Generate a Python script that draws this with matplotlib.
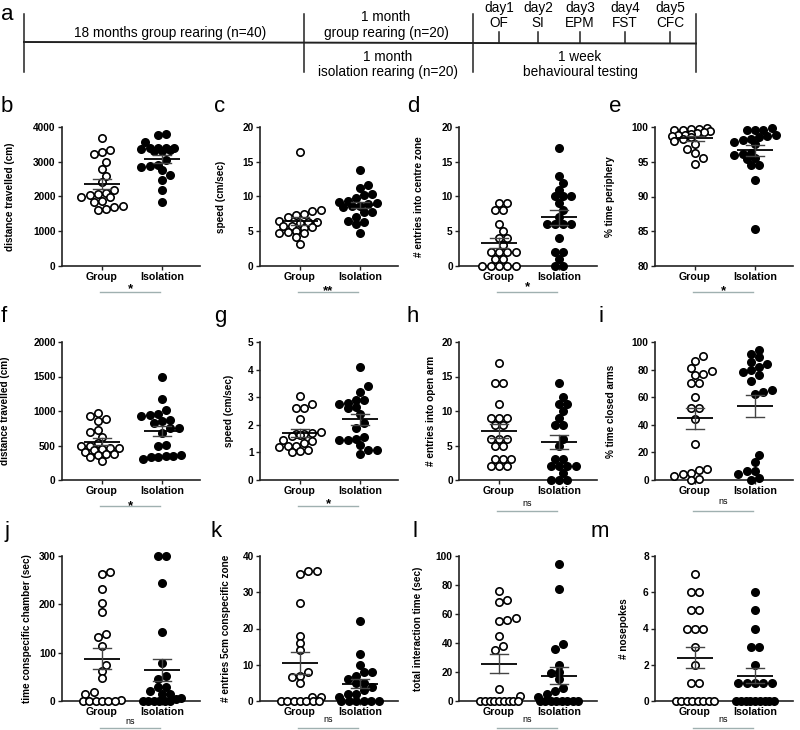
import numpy as np
import matplotlib
matplotlib.use('Agg')
import matplotlib.pyplot as plt

plt.rcParams['font.family'] = ['Liberation Sans', 'DejaVu Sans']

# ---------------- data ----------------
categories = ['Group', 'Isolation']

b_group = [3680, 3330, 3280, 3230, 2980, 2780, 2600, 2420, 2200, 2110, 2060, 2050, 1990, 1980, 1870, 1850, 1720, 1700, 1640, 1600]
b_iso = [3790, 3760, 3560, 3410, 3400, 3400, 3390, 3380, 3350, 3320, 3310, 3060, 2900, 2870, 2850, 2750, 2620, 2470, 2200, 1840]

c_group = [16.4, 8.0, 7.9, 7.5, 7.3, 7.1, 6.5, 6.4, 6.3, 6.2, 5.8, 5.7, 5.6, 5.5, 5.0, 4.9, 4.8, 4.7, 4.2, 3.1]
c_iso = [13.8, 11.7, 11.2, 10.2, 9.8, 10.3, 9.0, 8.9, 9.3, 9.2, 8.7, 8.6, 8.5, 7.8, 7.7, 7.1, 6.5, 6.4, 6.0, 4.8]

d_group = [9, 9, 8, 8, 6, 5, 4, 4, 3, 2, 2, 2, 2, 1, 1, 0, 0, 0, 0, 0]
d_iso = [17, 13, 12, 11, 10, 10, 10, 9, 8, 7, 6, 6, 6, 6, 4, 2, 2, 1, 0, 0]

e_group = [99.8, 99.7, 99.7, 99.6, 99.5, 99.4, 99.3, 99.2, 99.0, 98.9, 98.8, 98.7, 98.5, 98.3, 98.0, 97.5, 96.9, 96.2, 95.5, 94.7]
e_iso = [99.8, 99.6, 99.5, 99.6, 98.8, 98.7, 98.6, 98.3, 98.2, 97.9, 97.5, 96.3, 96.1, 96.0, 95.5, 95.4, 94.6, 94.5, 92.4, 85.3]

f_group = [970, 930, 880, 850, 720, 700, 630, 540, 500, 490, 470, 460, 450, 440, 400, 380, 370, 360, 330, 270]
f_iso = [1490, 1180, 1020, 950, 940, 930, 870, 850, 830, 760, 750, 680, 510, 500, 360, 350, 350, 340, 340, 310]

g_group = [3.05, 2.75, 2.6, 2.6, 2.2, 1.75, 1.7, 1.65, 1.65, 1.62, 1.6, 1.45, 1.4, 1.35, 1.25, 1.22, 1.2, 1.1, 1.05, 1.0]
g_iso = [4.1, 3.4, 3.2, 2.9, 2.9, 2.8, 2.75, 2.65, 2.6, 2.4, 2.05, 1.9, 1.55, 1.5, 1.45, 1.45, 1.28, 1.1, 1.1, 0.95]

h_group = [17, 14, 14, 11, 9, 9, 9, 8, 8, 6, 6, 6, 5, 5, 3, 3, 3, 2, 2, 2]
h_iso = [14, 12, 11, 11, 10, 9, 8, 8, 6, 5, 3, 3, 2, 2, 2, 2, 1, 0, 0, 0]

i_group = [90, 86, 81, 79, 77, 76, 70, 70, 60, 52.5, 52, 44, 26, 8, 7, 5, 4, 3, 1, 0]
i_iso = [94.5, 91.5, 89, 85.5, 84, 82, 79.5, 78, 76, 72, 65.5, 63.5, 62, 18, 13, 6.5, 6.5, 4, 1.5, 0]

j_group = [267, 262, 231, 202, 185, 138, 133, 113, 75, 62, 47, 18, 14, 3, 0, 0, 0, 0, 0, 0]
j_iso = [300, 300, 245, 143, 78, 52, 45, 30, 28, 20, 15, 14, 6, 4, 0, 0, 0, 0, 0, 0]

k_group = [36, 36, 35, 27, 18, 16, 14, 8, 7, 6.5, 5, 1, 1, 0, 0, 0, 0, 0, 0, 0]
k_iso = [22, 13, 10, 8, 8, 7, 6, 5, 5, 4, 3, 2, 2, 1, 0, 0, 0, 0, 0, 0]

l_group = [76, 70, 68, 57, 56, 55, 45, 38, 35.5, 8, 3.5, 0, 0, 0, 0, 0, 0, 0, 0, 0]
l_iso = [94.5, 77, 39, 36, 25, 20, 19, 15, 9, 7, 5, 3, 0, 0, 0, 0, 0, 0, 0, 0]

m_group = [7, 6, 6, 5, 5, 4, 4, 4, 3, 2, 1, 1, 0, 0, 0, 0, 0, 0, 0, 0]
m_iso = [6, 5, 4, 3, 3, 2, 1, 1, 1, 1, 1, 0, 0, 0, 0, 0, 0, 0, 0, 0]

letters = ['b', 'c', 'd', 'e', 'f', 'g', 'h', 'i', 'j', 'k', 'l', 'm']
group_data = [b_group, c_group, d_group, e_group, f_group, g_group, h_group, i_group, j_group, k_group, l_group, m_group]
iso_data = [b_iso, c_iso, d_iso, e_iso, f_iso, g_iso, h_iso, i_iso, j_iso, k_iso, l_iso, m_iso]
ylabels = ['distance travelled (cm)', 'speed (cm/sec)', '# entries into centre zone', '% time periphery',
           'distance travelled (cm)', 'speed (cm/sec)', '# entries into open arm', '% time closed arms',
           'time conspecific chamber (sec)', '# entries 5cm conspecific zone', 'total interaction time (sec)', '# nosepokes']
yticks = [[0, 1000, 2000, 3000, 4000], [0, 5, 10, 15, 20], [0, 5, 10, 15, 20], [80, 85, 90, 95, 100],
          [0, 500, 1000, 1500, 2000], [0, 1, 2, 3, 4, 5], [0, 5, 10, 15, 20], [0, 20, 40, 60, 80, 100],
          [0, 100, 200, 300], [0, 10, 20, 30, 40], [0, 20, 40, 60, 80, 100], [0, 2, 4, 6, 8]]
sig_labels = ['*', '**', '*', '*', '*', '*', 'ns', 'ns', 'ns', 'ns', 'ns', 'ns']

timeline_phases = ['18 months group rearing (n=40)']
phase_top = ['1 month', 'group rearing (n=20)']
phase_bottom = ['1 month', 'isolation rearing (n=20)']
week_text = ['1 week', 'behavioural testing']
day_labels = ['day1', 'day2', 'day3', 'day4', 'day5']
day_tests = ['OF', 'SI', 'EPM', 'FST', 'CFC']

# ---------------- layout ----------------
W, H = 800, 730
fig = plt.figure(figsize=(W / 100, H / 100), dpi=100)

ax0 = fig.add_axes([0, 0, 1, 1])
ax0.set_xlim(0, W)
ax0.set_ylim(H, 0)
ax0.axis('off')
tfs = 9.8
line_y = 42
vx = [24, 304, 473, 696]
ax0.plot([vx[0], vx[-1]], [line_y, line_y + 1.5], color='#222', lw=1.4)
for x in vx:
    ax0.plot([x, x], [14, 72], color='#222', lw=1.1)
day_x = [499, 538, 580, 625, 670]
for x, dl, tl in zip(day_x, day_labels, day_tests):
    ax0.plot([x, x], [32, 43], color='#222', lw=1.1)
    ax0.text(x, 8, dl, ha='center', va='center', fontsize=tfs)
    ax0.text(x, 23, tl, ha='center', va='center', fontsize=tfs)
ax0.text(170, 33, timeline_phases[0], ha='center', va='center', fontsize=tfs)
ax0.text(386, 17, phase_top[0], ha='center', va='center', fontsize=tfs)
ax0.text(386, 33, phase_top[1], ha='center', va='center', fontsize=tfs)
ax0.text(388, 57, phase_bottom[0], ha='center', va='center', fontsize=tfs)
ax0.text(388, 72, phase_bottom[1], ha='center', va='center', fontsize=tfs)
ax0.text(580, 57, week_text[0], ha='center', va='center', fontsize=tfs)
ax0.text(580, 72, week_text[1], ha='center', va='center', fontsize=tfs)
ax0.text(1, 20, 'a', ha='left', va='baseline', fontsize=16)

col_left = [62, 260, 459, 655]
row_top = [127, 342, 556]
row_bot = [266, 480, 701]
ax_w = 138
letter_x = [[1, 214, 407, 609], [1, 214, 407, 599], [5, 211, 412, 591]]
letter_base = [112, 322, 537]
ylabel_off = [-0.34, -0.25, -0.25, -0.29, -0.38, -0.19, -0.17, -0.28, -0.22, -0.21, -0.26, -0.19]
sig_line_dy = [26, 26, 26, 26, 26, 26, 31, 31, 27, 27, 27, 27]
sig_text_y = [285, 287, 283, 287, 502, 500, 503, 502, 721, 720, 720, 720]


def swarm_x(ax, xc, vals, binh=6.0, step=8.3, maxw=38.0, diam=7.2, limit=24.0):
    """GraphPad-like scatter: pixel rows centred, rows shifted to avoid overlap."""
    vals = np.asarray(vals, float)
    tr = ax.transData
    ypx = tr.transform(np.column_stack([np.full(len(vals), xc), vals]))[:, 1]
    y0 = tr.transform([[0, ax.get_ylim()[0]]])[0, 1]
    ppu = tr.transform([[1, 0]])[0, 0] - tr.transform([[0, 0]])[0, 0]
    bins = np.floor((ypx - y0 + binh / 2) / binh).astype(int)
    offs = np.zeros(len(vals))
    placed = []
    for b in sorted(np.unique(bins)):
        idx = np.where(bins == b)[0]
        idx = idx[np.argsort(vals[idx], kind='stable')]
        n = len(idx)
        st = step if n == 1 else min(step, maxw / (n - 1))
        base = np.array([(k - (n - 1) / 2) * st for k in range(n)])
        best, best_cost = None, None
        for j in range(40):
            sh = ((j + 1) // 2) * (step / 2) * (1 if j % 2 == 1 else -1)
            cand = base + sh
            if np.max(np.abs(cand)) > limit and j > 0:
                continue
            cost = 0.0
            for cx, ii in zip(cand, idx):
                for (px_, py_) in placed:
                    d = np.hypot(cx - px_, ypx[ii] - py_)
                    if d < diam:
                        cost += diam - d
            if best_cost is None or cost < best_cost - 1e-9:
                best, best_cost = cand, cost
            if cost == 0:
                break
        for cx, ii in zip(best, idx):
            offs[ii] = cx
            placed.append((cx, ypx[ii]))
    return xc + offs / ppu


for p in range(12):
    r, c = divmod(p, 4)
    left = col_left[c]
    top, bot = row_top[r], row_bot[r]
    ax = fig.add_axes([left / W, 1 - bot / H, ax_w / W, (bot - top) / H])
    yt = yticks[p]
    ax.set_ylim(yt[0], yt[-1])
    ax.set_xlim(-0.667, 1.633)
    ax.set_yticks(yt)
    ax.set_yticklabels([str(t) for t in yt], fontsize=7.3, fontweight='bold')
    ax.set_xticks([0, 1])
    ax.set_xticklabels(categories, fontsize=7.7, fontweight='bold')
    for s in ['top', 'right']:
        ax.spines[s].set_visible(False)
    for s in ['left', 'bottom']:
        ax.spines[s].set_linewidth(1.2)
        ax.spines[s].set_color('#222')
    ax.tick_params(axis='both', length=3, width=1.0, color='#222', pad=1.5)
    ax.patch.set_alpha(0)
    ax.set_ylabel(ylabels[p], fontsize=7.2, fontweight='bold')
    ax.yaxis.set_label_coords(ylabel_off[p], 0.5)

    for xi, vals, filled in [(0, group_data[p], False), (1, iso_data[p], True)]:
        xs = swarm_x(ax, xi, vals)
        ax.plot(xs, vals, 'o', ms=5.3, mfc='black' if filled else 'white', mec='black',
                mew=1.2, ls='none', clip_on=False, zorder=3)
        v = np.asarray(vals, float)
        mu = v.mean()
        sem = v.std(ddof=1) / np.sqrt(len(v))
        ax.plot([xi - 0.3, xi + 0.3], [mu, mu], color='black', lw=1.3, zorder=5, solid_capstyle='butt')
        ax.plot([xi, xi], [mu - sem, mu + sem], color='#444', lw=1.0, zorder=5)
        for yy in (mu - sem, mu + sem):
            ax.plot([xi - 0.15, xi + 0.15], [yy, yy], color='#444', lw=1.0, zorder=5)

    ly = bot + sig_line_dy[p]
    ax0.plot([left + 38, left + 98], [ly, ly], color='#9fb0b0', lw=1.0)
    lab = sig_labels[p]
    if lab == 'ns':
        ax0.text(left + 68, sig_text_y[p], lab, ha='center', va='center', fontsize=6.5)
    else:
        ax0.text(left + 68, sig_text_y[p] + 4, lab, ha='center', va='center', fontsize=9.5, fontweight='bold')

    ax0.text(letter_x[r][c], letter_base[r], letters[p], ha='left', va='baseline', fontsize=16)

fig.savefig('out.png', dpi=100)
